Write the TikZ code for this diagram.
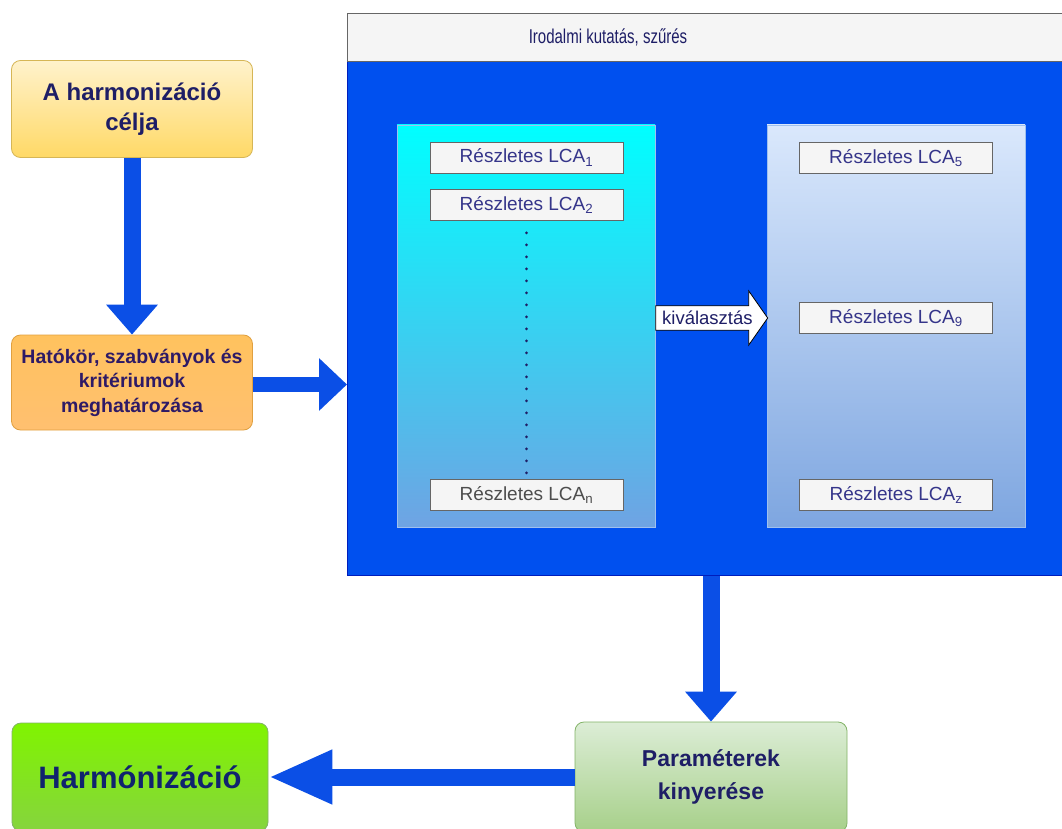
\documentclass[tikz,border=0pt]{standalone}
\usepackage{fontspec}
\setmainfont{Liberation Sans}
\newfontfamily\condfont[FakeStretch=0.75]{Liberation Sans}
\usetikzlibrary{arrows.meta,shapes.arrows}
\definecolor{cblue}{HTML}{0050EF}
\definecolor{cbluedark}{HTML}{001DBC}
\definecolor{arrblue}{HTML}{0B4FE6}
\definecolor{navy}{HTML}{1E1E66}
\definecolor{purpnavy}{HTML}{2E1A66}
\definecolor{lcatext}{HTML}{35358A}
\definecolor{lcagray}{HTML}{4D4D4D}
\definecolor{harmtext}{HTML}{10236E}
\definecolor{goalborder}{HTML}{D6B656}
\definecolor{goaltop}{HTML}{FFF2CC}
\definecolor{goalbot}{HTML}{FFD966}
\definecolor{scopeborder}{HTML}{E0A040}
\definecolor{scopetop}{HTML}{FFC25E}
\definecolor{scopebot}{HTML}{FFC070}
\definecolor{greenborder}{HTML}{82B366}
\definecolor{partop}{HTML}{DCEDD6}
\definecolor{parbot}{HTML}{A7D08A}
\definecolor{harmtop}{HTML}{80F400}
\definecolor{harmbot}{HTML}{86D43E}
\definecolor{hdrfill}{HTML}{F5F5F5}
\definecolor{hdrborder}{HTML}{666666}
\definecolor{lptop}{HTML}{00FFFF}
\definecolor{lpbot}{HTML}{6FA3E3}
\definecolor{rptop}{HTML}{DAE8FC}
\definecolor{rpbot}{HTML}{7EA6E0}
\definecolor{panelborder}{HTML}{9FC0EE}
\definecolor{lcafill}{HTML}{F5F5F5}
\tikzset{
  rbox/.style={rounded corners=9pt, draw, line width=0.8pt, align=center, inner sep=2pt},
  goalbox/.style={rbox, draw=goalborder, top color=goaltop, bottom color=goalbot, text=navy,
    font=\bfseries\fontsize{24}{30}\selectfont, minimum width=241pt, minimum height=97pt},
  scopebox/.style={rbox, draw=scopeborder, top color=scopetop, bottom color=scopebot, text=purpnavy,
    font=\bfseries\fontsize{19.5}{24.5}\selectfont, minimum width=241pt, minimum height=95pt},
  parbox/.style={rbox, draw=greenborder, top color=partop, bottom color=parbot, text=navy,
    font=\bfseries\fontsize{23}{33}\selectfont, minimum width=272pt, minimum height=110pt},
  harmbox/.style={rbox, draw=greenborder, top color=harmtop, bottom color=harmbot, text=harmtext,
    font=\bfseries\fontsize{31}{36}\selectfont, minimum width=256pt, minimum height=108pt},
  panel/.style={draw=panelborder, line width=0.6pt, minimum width=258pt, minimum height=402pt},
  lcabox/.style={draw=hdrborder, fill=lcafill, line width=0.8pt, minimum width=193pt,
    minimum height=31pt, inner sep=0pt, font=\fontsize{19}{21}\selectfont, text=lcatext},
  bigarrow/.style={draw=arrblue, line width=#1},
}
\begin{document}
\begin{tikzpicture}[x=1pt,y=-1pt]
\clip (0,0) rectangle (1062,829);
\fill[white] (0,0) rectangle (1062,829);

% container
\node[draw=cbluedark, fill=cblue, line width=0.8pt, minimum width=725pt, minimum height=562pt,
  anchor=north west, inner sep=0pt] (cont) at (347,13) {};
\node[draw=hdrborder, fill=hdrfill, line width=0.8pt, minimum width=725pt, minimum height=48pt,
  anchor=north west, inner sep=0pt] (hdr) at (347,13) {};
\node[text=navy, font=\condfont\fontsize{20}{22}\selectfont] (hdrtext) at (608,37) {Irodalmi kutatás, szűrés};

% panels
\node[panel, top color=lptop, bottom color=lpbot] (lp) at (526,326) {};
\node[panel, top color=rptop, bottom color=rpbot] (rp) at (896,326) {};

% LCA boxes
\node[lcabox] (lca1) at (526.5,157.5) {Részletes LCA\textsubscript{1}};
\node[lcabox] (lca2) at (526.5,205) {Részletes LCA\textsubscript{2}};
\node[lcabox, text=lcagray] (lcan) at (526.5,495) {Részletes LCA\textsubscript{n}};
\node[lcabox] (lca5) at (896,158) {Részletes LCA\textsubscript{5}};
\node[lcabox] (lca9) at (896,318) {Részletes LCA\textsubscript{9}};
\node[lcabox] (lcaz) at (896,495) {Részletes LCA\textsubscript{z}};

\draw[navy, line width=3pt, line cap=round, dash pattern=on 0pt off 12pt]
  ([yshift=-12pt]lca2.south) -- ([yshift=6pt]lcan.north);

% selection arrow
\node[single arrow, draw=black, fill=white, line width=0.8pt, anchor=tail,
  single arrow head extend=15pt, single arrow tip angle=110, inner xsep=1pt, inner ysep=5pt,
  text=navy, font=\fontsize{18.5}{20}\selectfont, text depth=0pt,
  minimum width=28pt, minimum height=112pt] (sel) at (lp.east |- lca9) {kiválasztás};

% left boxes
\node[goalbox] (goal) at (132,109) {A harmonizáció\\célja};
\node[scopebox] (scope) at (132,382.5) {Hatókör, szabványok és\\kritériumok\\meghatározása};

% bottom boxes
\node[parbox] (par) at (711,777) {Paraméterek\\kinyerése};
\node[harmbox] (harm) at (140,777) {Harmónizáció};

% connectors
\draw[bigarrow=17pt, -{Triangle[length=30pt,width=50pt]}] (goal.south) -- (scope.north);
\draw[bigarrow=15pt, -{Triangle[length=28pt,width=51pt]}] ([yshift=-2pt]scope.east) -- ([yshift=-2pt]scope.east -| cont.west);
\draw[bigarrow=17pt, -{Triangle[length=30pt,width=50pt]}] (cont.south -| par.north) -- (par.north);
\draw[bigarrow=17pt, -{Triangle[length=64pt,width=50pt]}] (par.west) -- (par.west -| harm.east);
\end{tikzpicture}
\end{document}
